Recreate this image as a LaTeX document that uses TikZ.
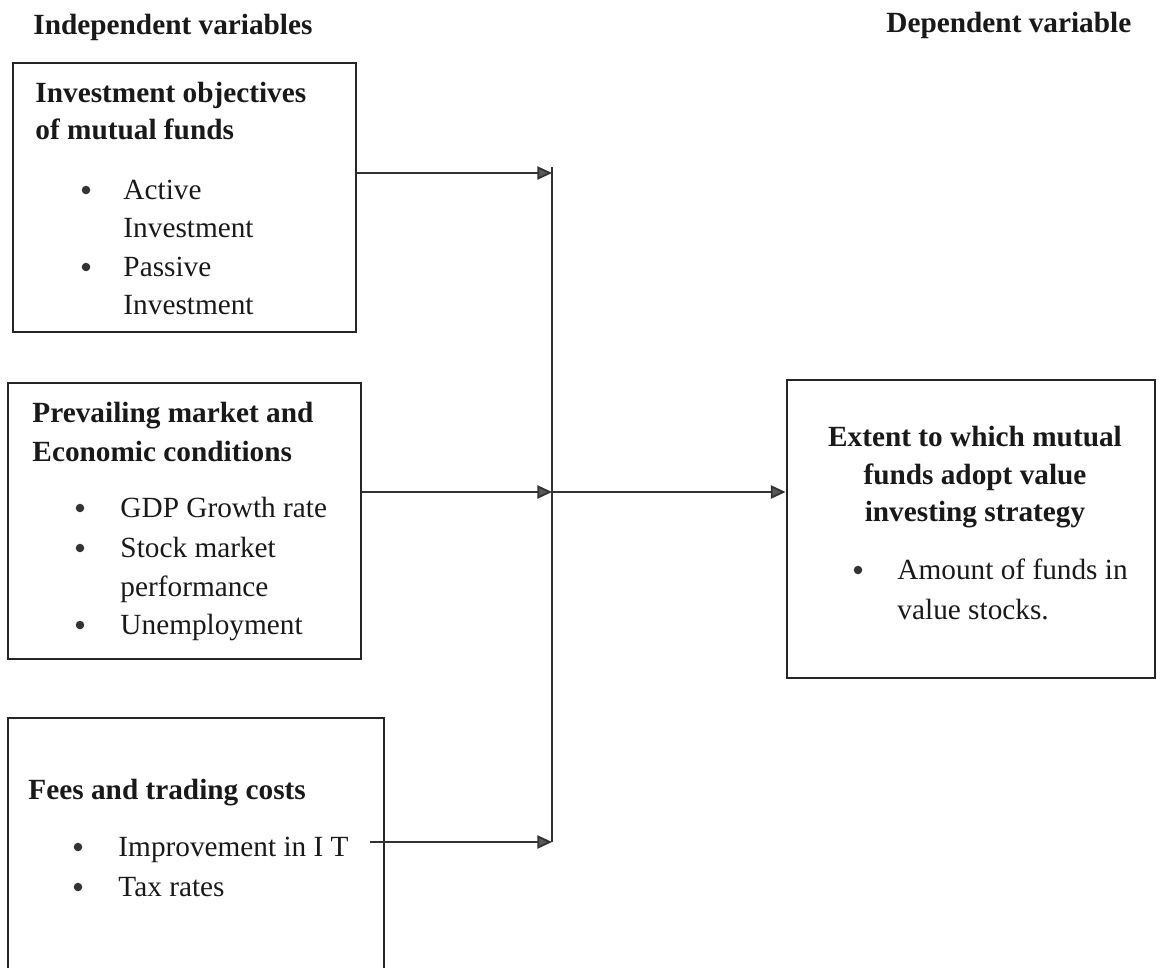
\documentclass[tikz,border=0pt]{standalone}
\usepackage{fontspec}
\setmainfont{Liberation Serif}
\usetikzlibrary{arrows.meta,fit}

\tikzset{
  varbox/.style={draw=black!85,line width=1.2pt,inner sep=0pt},
  boxtitle/.style={font=\fontsize{12}{14}\selectfont\bfseries,anchor=base west,inner sep=0pt},
  boxitem/.style={anchor=base west,inner sep=0pt},
  bul/.style={circle,fill=black!80,inner sep=0pt,minimum size=3.5pt},
  link/.style={draw=black!80,line width=0.75pt},
  flow/.style={link,-{Triangle[length=6pt,width=5.4pt,fill=black!65]}}
}

\begin{document}
\begin{tikzpicture}[x=0.0144cm,y=-0.0144cm,font=\fontsize{12}{14}\selectfont,text=black!90]
\useasboundingbox (0,0) rectangle (1157,968);
\clip (0,0) rectangle (1157,968);

% headings
\node[boxtitle] (indep) at (33,34) {Independent variables};
\node[boxtitle] (dep) at (886,32) {Dependent variable};

% investment objectives
\node[varbox,fit={(13,63) (356,332)}] (objbox) {};
\node[boxtitle] (obj1) at (35,102) {Investment objectives};
\node[boxtitle] (obj2) at (35,139) {of mutual funds};
\node[bul] (objb1) at (86,190) {};
\node[boxitem] (obja1) at (123,199) {Active};
\node[boxitem] (obja2) at (123,237) {Investment};
\node[bul] (objb2) at (86,267) {};
\node[boxitem] (objp1) at (123,276) {Passive};
\node[boxitem] (objp2) at (123,314) {Investment};

% market conditions
\node[varbox,fit={(8,383) (361,659)}] (mktbox) {};
\node[boxtitle] (mkt1) at (32,422) {Prevailing market and};
\node[boxtitle] (mkt2) at (32,461) {Economic conditions};
\node[bul] (mktb1) at (80,508) {};
\node[boxitem] (gdp) at (120,517) {GDP Growth rate};
\node[bul] (mktb2) at (80,548) {};
\node[boxitem] (stk1) at (120,557) {Stock market};
\node[boxitem] (stk2) at (120,596) {performance};
\node[bul] (mktb3) at (80,625) {};
\node[boxitem] (unem) at (120,634) {Unemployment};

% fees
\node[varbox,fit={(8,718) (384,1000)}] (feebox) {};
\node[boxtitle] (fee1) at (28,799) {Fees and trading costs};
\node[bul] (feeb1) at (78,847) {};
\node[boxitem] (imp) at (118,856) {Improvement in I T};
\node[bul] (feeb2) at (78,887) {};
\node[boxitem] (tax) at (118,896) {Tax rates};

% dependent variable
\node[varbox,fit={(787,380) (1155,678)}] (extbox) {};
\node[boxtitle,anchor=base] (ext1) at (975,446) {Extent to which mutual};
\node[boxtitle,anchor=base] (ext2) at (975,484) {funds adopt value};
\node[boxtitle,anchor=base] (ext3) at (975,521) {investing strategy};
\node[bul] (extb1) at (858,570) {};
\node[boxitem] (amt1) at (897,579) {Amount of funds in};
\node[boxitem] (amt2) at (897,619) {value stocks.};

% connectors
\coordinate (jtop) at (552,167);
\coordinate (jone) at (552,173);
\coordinate (jmid) at (552,492);
\coordinate (jbot) at (552,842);
\coordinate (itend) at (370,842);
\draw[link] (jtop) -- (jbot);
\draw[flow] (objbox.east |- jone) -- (jone);
\draw[flow] (mktbox.east |- jmid) -- (jmid);
\draw[flow] (itend) -- (jbot);
\draw[flow] (jmid) -- (extbox.west |- jmid);
\end{tikzpicture}
\end{document}
